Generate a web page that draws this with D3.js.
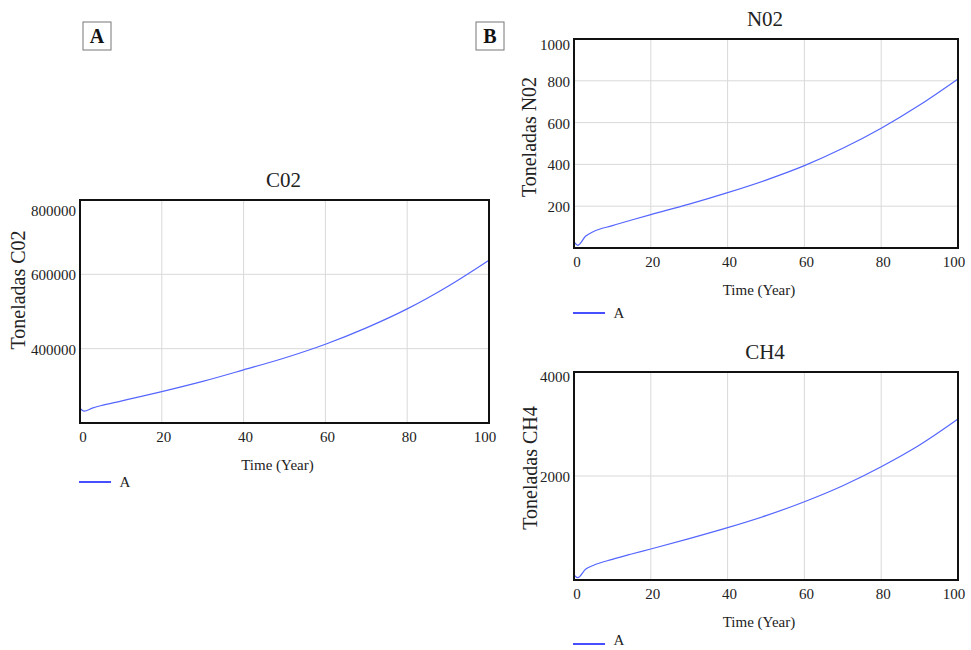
<!DOCTYPE html>
<html>
<head>
<meta charset="utf-8">
<script src="https://cdn.jsdelivr.net/npm/d3@7"></script>
<style>
  html, body { margin: 0; padding: 0; background: #fff; }
  svg { display: block; }
  text { font-family: "Liberation Serif", "Times New Roman", serif; fill: #222; }
</style>
</head>
<body>
<svg id="chart" width="971" height="650"></svg>
<script>
// ---- data ----
const years = [0, 1, 3, 5, 10, 15, 20, 30, 40, 50, 60, 70, 80, 90, 100];
const co2Values = [240000, 232000, 240000, 246500, 259000, 271500, 284500, 312000, 343000, 375000, 412000, 456000, 507000, 568000, 638000];
const no2Values = [29, 13, 56, 78, 107, 134, 160, 210, 265, 325, 394, 477, 573, 684, 809];
const ch4Values = [96, 44, 205, 280, 398, 500, 596, 795, 1006, 1237, 1506, 1814, 2179, 2596, 3096];
const xTicks = [0, 20, 40, 60, 80, 100];
const co2Ticks = [400000, 600000, 800000];
const no2Ticks = [200, 400, 600, 800, 1000];
const ch4Ticks = [2000, 4000];
const seriesName = "A";
const xTitle = "Time (Year)";

const svg = d3.select("#chart");

function drawChart(cfg) {
  const x = d3.scaleLinear().domain([0, 100]).range([cfg.left, cfg.right]);
  const y = d3.scaleLinear().domain(cfg.yDomain).range([cfg.bottom, cfg.top]);
  const g = svg.append("g");

  // gridlines
  g.selectAll(".vg").data(xTicks.filter(d => d > 0 && d < 100)).join("line")
    .attr("x1", d => x(d)).attr("x2", d => x(d))
    .attr("y1", cfg.top).attr("y2", cfg.bottom)
    .attr("stroke", "#d9d9d9").attr("stroke-width", 1);
  g.selectAll(".hg").data(cfg.yTicks.filter(d => y(d) > cfg.top + 2)).join("line")
    .attr("x1", cfg.left).attr("x2", cfg.right)
    .attr("y1", d => y(d)).attr("y2", d => y(d))
    .attr("stroke", "#d9d9d9").attr("stroke-width", 1);

  // series line
  const line = d3.line().x((d, i) => x(years[i])).y(d => y(d)).curve(d3.curveMonotoneX);
  g.append("path").datum(cfg.values)
    .attr("d", line).attr("fill", "none")
    .attr("stroke", "#5566ff").attr("stroke-width", 1.2);

  // frame
  g.append("rect")
    .attr("x", cfg.left).attr("y", cfg.top)
    .attr("width", cfg.right - cfg.left).attr("height", cfg.bottom - cfg.top)
    .attr("fill", "none").attr("stroke", "#111").attr("stroke-width", 2);

  // y tick labels
  g.selectAll(".yl").data(cfg.yTicks).join("text")
    .attr("x", cfg.left - 4)
    .attr("y", d => Math.max(y(d), cfg.top + cfg.topLabelOffset) + 6)
    .attr("text-anchor", "end").attr("font-size", 15)
    .text(d => d);

  // x tick labels
  g.selectAll(".xl").data(xTicks).join("text")
    .attr("x", d => x(d) + (d === 0 ? 1 : 0) + (d === 100 ? -4 : 2))
    .attr("y", cfg.bottom + 19)
    .attr("text-anchor", "middle").attr("font-size", 15)
    .text(d => d);

  // title
  g.append("text").attr("x", (cfg.left + cfg.right) / 2 - 1).attr("y", cfg.top - 13)
    .attr("text-anchor", "middle").attr("font-size", 21).text(cfg.title);

  // y axis title
  g.append("text")
    .attr("transform", `translate(${cfg.yTitleX},${cfg.yTitleY}) rotate(-90)`)
    .attr("text-anchor", "middle").attr("font-size", 20).text(cfg.yTitle);

  // x axis title
  g.append("text").attr("x", (cfg.left + cfg.right) / 2 - 7).attr("y", cfg.bottom + 47)
    .attr("text-anchor", "middle").attr("font-size", 15).text(xTitle);

  // legend
  g.append("line")
    .attr("x1", cfg.left - 1).attr("x2", cfg.left + 31)
    .attr("y1", cfg.legendY).attr("y2", cfg.legendY)
    .attr("stroke", "#1a22ff").attr("stroke-width", 1.6);
  g.append("text").attr("x", cfg.left + 45).attr("y", Math.min(cfg.legendY + 5, 645))
    .attr("text-anchor", "middle").attr("font-size", 15).text(seriesName);
}

drawChart({
  title: "C02", yTitle: "Toneladas C02", values: co2Values,
  yDomain: [200000, 800000], yTicks: co2Ticks,
  left: 80, right: 489, top: 200, bottom: 423, topLabelOffset: 10,
  yTitleX: 25, yTitleY: 290, legendY: 482
});
drawChart({
  title: "N02", yTitle: "Toneladas N02", values: no2Values,
  yDomain: [0, 1000], yTicks: no2Ticks,
  left: 574, right: 958, top: 39, bottom: 248, topLabelOffset: 5,
  yTitleX: 536, yTitleY: 137, legendY: 313
});
drawChart({
  title: "CH4", yTitle: "Toneladas CH4", values: ch4Values,
  yDomain: [0, 4000], yTicks: ch4Ticks,
  left: 574, right: 958, top: 372, bottom: 580, topLabelOffset: 4,
  yTitleX: 537, yTitleY: 468, legendY: 644
});

// panel labels
const panels = [{label: "A", x: 83}, {label: "B", x: 476}];
const pg = svg.selectAll(".panel").data(panels).join("g");
pg.append("rect").attr("x", d => d.x).attr("y", 22).attr("width", 28).attr("height", 28)
  .attr("fill", "#fff").attr("stroke", "#777").attr("stroke-width", 1);
pg.append("text").attr("x", d => d.x + 14).attr("y", 43)
  .attr("text-anchor", "middle").attr("font-size", 20).attr("font-weight", "bold")
  .style("fill", "#111").text(d => d.label);
</script>
</body>
</html>
